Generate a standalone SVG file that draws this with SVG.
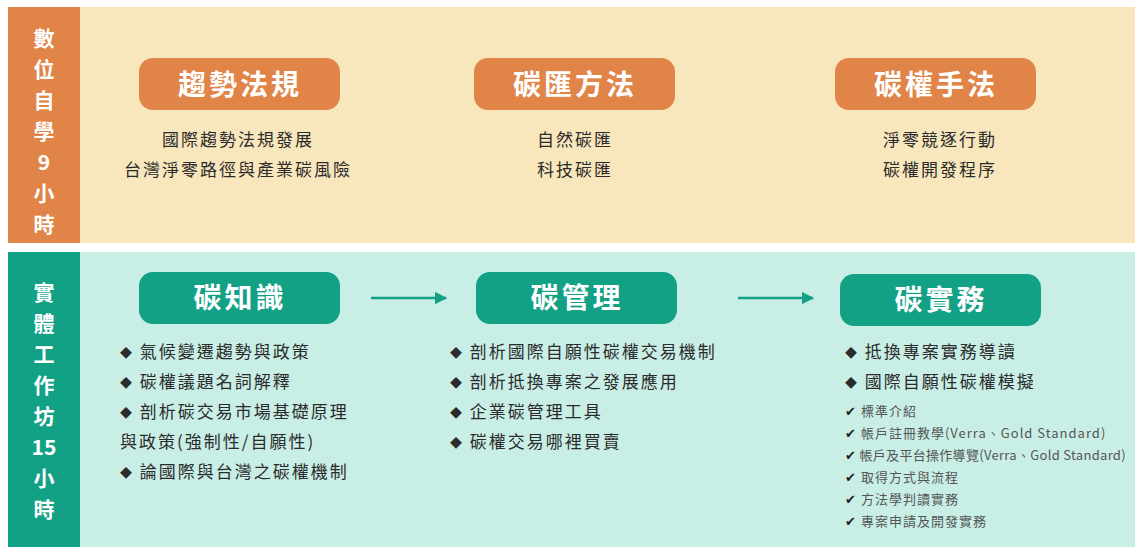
<svg xmlns="http://www.w3.org/2000/svg" width="1144" height="555" viewBox="0 0 1144 555">
<defs>
<style>
text{font-family:"Noto Sans CJK TC","Noto Sans CJK SC",sans-serif}
.side{fill:#fff;font-size:21px;font-weight:bold;text-anchor:middle}
.pill{fill:#fff;font-size:28px;font-weight:bold;text-anchor:middle;letter-spacing:3px}
.t{fill:#2b2b2b;font-size:17px;text-anchor:middle;letter-spacing:2px}
.b{fill:#2b2b2b;font-size:17px;letter-spacing:2px}
.d{font-size:12px}
.s{fill:#555;font-size:13px;letter-spacing:1px}
.c{fill:#222;font-size:13px}
</style>
<marker id="ar" viewBox="0 0 10 10" refX="9" refY="5" markerWidth="5" markerHeight="5" orient="auto"><path d="M0,0L10,5L0,10z" fill="#12A185"/></marker>
</defs>
<rect width="1144" height="555" fill="#fff"/>
<rect x="8" y="7" width="72" height="236" fill="#E08447"/>
<rect x="80" y="7" width="1055" height="236" fill="#F8E6BD"/>
<rect x="8" y="252" width="72" height="295" fill="#12A185"/>
<rect x="80" y="252" width="1055" height="295" fill="#C8EEE6"/>
<g id="side1"><text class="side" x="44" y="46">數</text><text class="side" x="44" y="77">位</text><text class="side" x="44" y="108">自</text><text class="side" x="44" y="139">學</text><text class="side" x="44" y="170">9</text><text class="side" x="44" y="201">小</text><text class="side" x="44" y="232">時</text></g>
<g id="side2"><text class="side" x="44" y="300">實</text><text class="side" x="44" y="331">體</text><text class="side" x="44" y="362">工</text><text class="side" x="44" y="393">作</text><text class="side" x="44" y="424">坊</text><text class="side" x="44" y="455">15</text><text class="side" x="44" y="486">小</text><text class="side" x="44" y="517">時</text></g>
<g id="n1"><rect x="139" y="58" width="201" height="52" rx="14" fill="#E08447"/><text class="pill" x="240" y="95">趨勢法規</text><text class="t" x="238" y="146">國際趨勢法規發展</text><text class="t" x="238" y="176">台灣淨零路徑與產業碳風險</text></g>
<g id="n2"><rect x="474" y="58" width="201" height="52" rx="14" fill="#E08447"/><text class="pill" x="575" y="95">碳匯方法</text><text class="t" x="575" y="146">自然碳匯</text><text class="t" x="575" y="176">科技碳匯</text></g>
<g id="n3"><rect x="835" y="58" width="201" height="52" rx="14" fill="#E08447"/><text class="pill" x="936" y="95">碳權手法</text><text class="t" x="940" y="146">淨零競逐行動</text><text class="t" x="940" y="176">碳權開發程序</text></g>
<g id="n4"><rect x="139" y="272" width="201" height="52" rx="14" fill="#12A185"/><text class="pill" x="240" y="308">碳知識</text>
<text class="b" x="120" y="358"><tspan class="d">◆</tspan> 氣候變遷趨勢與政策</text><text class="b" x="120" y="388"><tspan class="d">◆</tspan> 碳權議題名詞解釋</text><text class="b" x="120" y="418"><tspan class="d">◆</tspan> 剖析碳交易市場基礎原理</text><text class="b" x="120" y="448">與政策(強制性/自願性)</text><text class="b" x="120" y="478"><tspan class="d">◆</tspan> 論國際與台灣之碳權機制</text></g>
<g id="n5"><rect x="476" y="272" width="201" height="52" rx="14" fill="#12A185"/><text class="pill" x="577" y="308">碳管理</text>
<text class="b" x="450" y="358"><tspan class="d">◆</tspan> 剖析國際自願性碳權交易機制</text><text class="b" x="450" y="388"><tspan class="d">◆</tspan> 剖析抵換專案之發展應用</text><text class="b" x="450" y="418"><tspan class="d">◆</tspan> 企業碳管理工具</text><text class="b" x="450" y="448"><tspan class="d">◆</tspan> 碳權交易哪裡買賣</text></g>
<g id="n6"><rect x="840" y="274" width="201" height="52" rx="14" fill="#12A185"/><text class="pill" x="941" y="310">碳實務</text>
<text class="b" x="845" y="358"><tspan class="d">◆</tspan> 抵換專案實務導讀</text><text class="b" x="845" y="388"><tspan class="d">◆</tspan> 國際自願性碳權模擬</text>
<text class="s" x="845" y="416"><tspan class="c">✔</tspan> 標準介紹</text>
<text class="s" x="845" y="438"><tspan class="c">✔</tspan> 帳戶註冊教學(Verra、Gold Standard)</text>
<text class="s" x="845" y="460" style="letter-spacing:0.3px"><tspan class="c">✔</tspan> 帳戶及平台操作導覽(Verra、Gold Standard)</text>
<text class="s" x="845" y="482"><tspan class="c">✔</tspan> 取得方式與流程</text>
<text class="s" x="845" y="504"><tspan class="c">✔</tspan> 方法學判讀實務</text>
<text class="s" x="845" y="526"><tspan class="c">✔</tspan> 專案申請及開發實務</text></g>
<g id="connectors" stroke="#12A185" stroke-width="2.5" fill="none"><path d="M371,298H446" marker-end="url(#ar)"/><path d="M738,298H813" marker-end="url(#ar)"/></g>
</svg>
